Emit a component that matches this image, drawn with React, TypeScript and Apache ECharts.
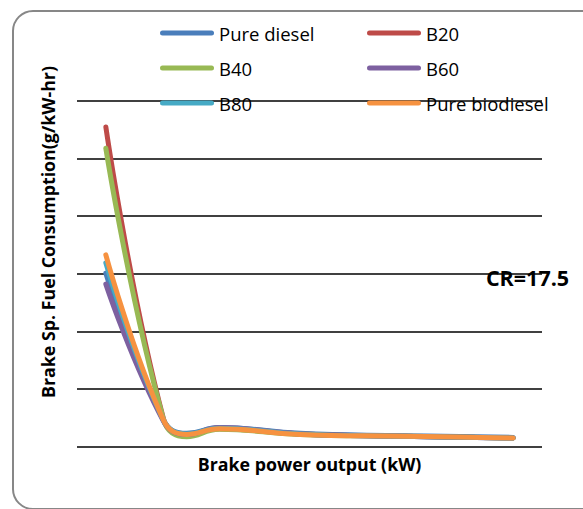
import React, { useEffect, useRef } from "react";
import * as echarts from "echarts";

const brakePower = [0.31, 0.93, 1.18, 1.53, 2.4, 3.5, 4.69];
const pureDiesel = [301, 46, 23, 33, 23, 19, 16];
const b20 = [555, 48, 20, 31, 22, 18, 15];
const b40 = [518, 47, 17, 30, 21, 18, 15];
const b60 = [282, 44, 21, 33, 22, 18, 15];
const b80 = [319, 46, 22, 32, 22, 18, 15];
const pureBiodiesel = [333, 46, 21, 31, 21, 18, 15];

const seriesNames = ["Pure diesel", "B20", "B40", "B60", "B80", "Pure biodiesel"];
const seriesValues = [pureDiesel, b20, b40, b60, b80, pureBiodiesel];
const seriesColors = ["#4a7ebb", "#be4b48", "#98b954", "#7d60a0", "#46aac5", "#f69240"];

const yTicks = [0, 100, 200, 300, 400, 500, 600];

export default function App() {
  const ref = useRef<HTMLDivElement>(null);
  useEffect(() => {
    document.body.style.margin = "0";
    const chart = echarts.init(ref.current!, null, { renderer: "svg" });
    const font = "'Open Sans', sans-serif";
    chart.setOption({
      animation: false,
      backgroundColor: "#ffffff",
      grid: { left: 77, right: 41, top: 101, bottom: 62.4, containLabel: false },
      legend: {
        data: seriesNames,
        left: 160,
        top: 15.5,
        padding: 0,
        width: 420,
        itemGap: 0,
        itemWidth: 54,
        itemHeight: 5,
        icon: "path://M2.5,0 H51.5 A2.5,2.5 0 0 1 51.5,5 H2.5 A2.5,2.5 0 0 1 2.5,0 Z",
        itemStyle: { borderWidth: 0 },
        textStyle: { fontFamily: font, fontSize: 18.5, color: "#000", width: 148, lineHeight: 35 },
      },
      xAxis: {
        type: "value",
        min: 0,
        max: 5,
        axisLine: { show: false },
        axisTick: { show: false },
        axisLabel: { show: false },
        splitLine: { show: false },
      },
      yAxis: {
        type: "value",
        min: yTicks[0],
        max: yTicks[yTicks.length - 1],
        interval: 100,
        axisLine: { show: false },
        axisTick: { show: false },
        axisLabel: { show: false },
        splitLine: { show: true, lineStyle: { color: "#000", width: 1.5 } },
      },
      series: seriesNames.map((name, i) => ({
        name,
        type: "line",
        smooth: 0.45,
        symbol: "none",
        color: seriesColors[i],
        lineStyle: { width: 5, color: seriesColors[i], cap: "round", join: "round" },
        data: brakePower.map((x, j) => [x, seriesValues[i][j]]),
      })),
      graphic: [
        {
          type: "rect",
          shape: { x: 13, y: 11, width: 600, height: 498, r: 20 },
          style: { fill: "none", stroke: "#878787", lineWidth: 2 },
          silent: true,
        },
        {
          type: "text",
          x: 47.5,
          y: 232,
          rotation: Math.PI / 2,
          style: {
            text: "Brake Sp. Fuel Consumption(g/kW-hr)",
            font: `bold 17.8px ${font}`,
            fill: "#000",
            align: "center",
            verticalAlign: "middle",
          },
        },
        {
          type: "text",
          x: 309.6,
          y: 464,
          style: {
            text: "Brake power output (kW)",
            font: `bold 17.8px ${font}`,
            fill: "#000",
            align: "center",
            verticalAlign: "middle",
          },
        },
        {
          type: "text",
          x: 527.5,
          y: 277,
          style: {
            text: "CR=17.5",
            font: `bold 21.5px ${font}`,
            fill: "#000",
            align: "center",
            verticalAlign: "middle",
          },
        },
      ],
    });
    return () => chart.dispose();
  }, []);
  return <div ref={ref} style={{ width: 583, height: 509 }} />;
}
